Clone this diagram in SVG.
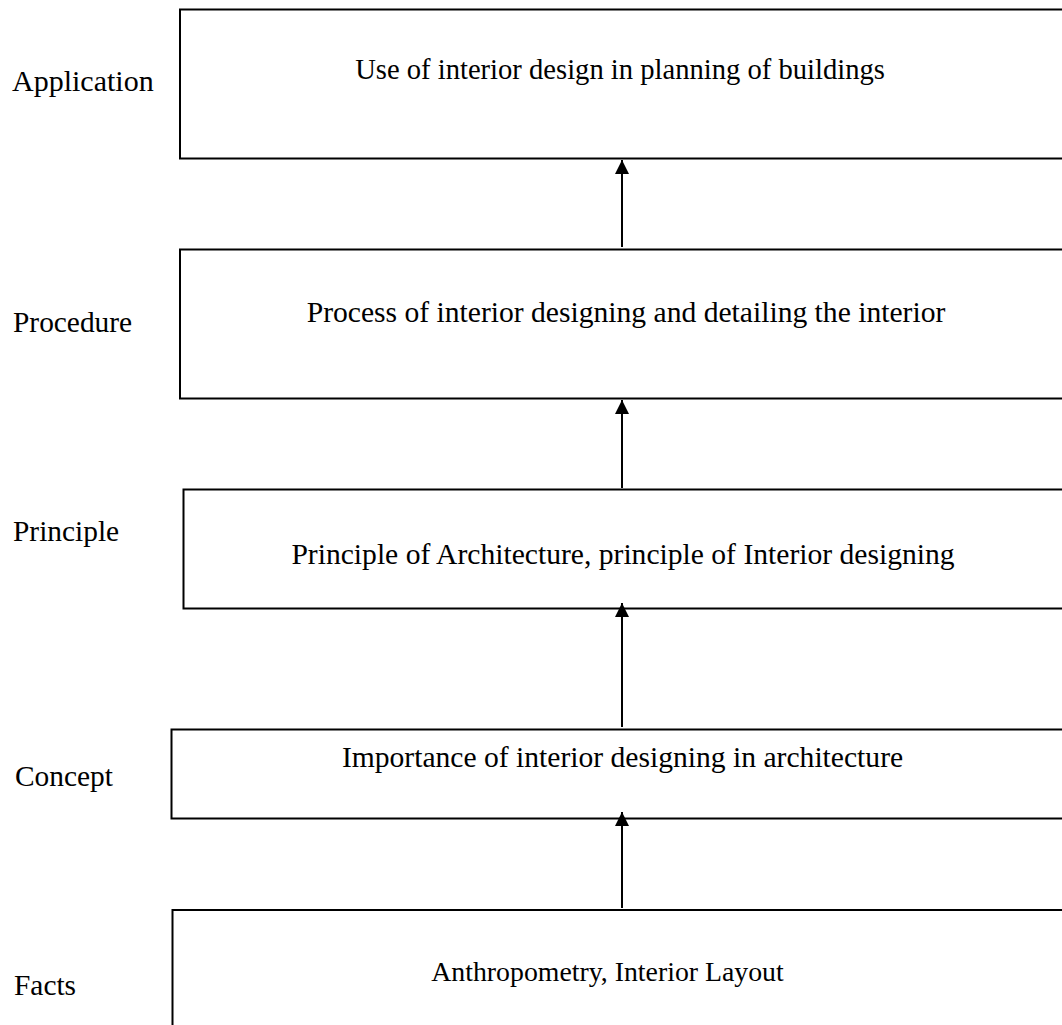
<svg xmlns="http://www.w3.org/2000/svg" width="1062" height="1025" viewBox="0 0 1062 1025">
<style>
.box{fill:#fff;stroke:#000;stroke-width:2}
.t{font-family:"Liberation Serif","Times New Roman",serif;font-size:28.6px;fill:#000}
.c{text-anchor:middle}
.w{font-size:29.6px}
.conn{stroke:#000;stroke-width:2;fill:none}
</style>
<defs>
<marker id="ah" markerUnits="userSpaceOnUse" markerWidth="16" markerHeight="16" refX="14" refY="7" orient="auto">
<path d="M0,0 L14,7 L0,14 Z" fill="#000"/>
</marker>
</defs>
<rect width="1062" height="1025" fill="#fff"/>
<g id="node-application">
<rect class="box" x="180" y="9.5" width="900" height="149"/>
<text class="t c" x="620" y="79">Use of interior design in planning of buildings</text>
</g>
<g id="node-procedure">
<rect class="box" x="180" y="249.5" width="900" height="149"/>
<text class="t c w" x="626" y="322">Process of interior designing and detailing the interior</text>
</g>
<g id="node-principle">
<rect class="box" x="183.5" y="489.5" width="900" height="119"/>
<text class="t c w" x="623" y="564">Principle of Architecture, principle of Interior designing</text>
</g>
<g id="node-concept">
<rect class="box" x="171.5" y="729.5" width="900" height="89"/>
<text class="t c w" x="622.5" y="767">Importance of interior designing in architecture</text>
</g>
<g id="node-facts">
<rect class="box" x="172.5" y="910" width="900" height="140"/>
<text class="t c" x="607.5" y="981" style="font-size:27.8px">Anthropometry, Interior Layout</text>
</g>
<g id="labels">
<text class="t" x="12" y="91" style="font-size:30px">Application</text>
<text class="t" x="13" y="332" style="font-size:29.4px">Procedure</text>
<text class="t" x="13" y="541" style="font-size:29.4px">Principle</text>
<text class="t" x="15" y="786" style="font-size:29.4px">Concept</text>
<text class="t" x="14" y="995" style="font-size:29.4px">Facts</text>
</g>
<g id="connectors">
<line class="conn" x1="622" y1="247" x2="622" y2="160" marker-end="url(#ah)"/>
<line class="conn" x1="622" y1="488" x2="622" y2="400" marker-end="url(#ah)"/>
<line class="conn" x1="622" y1="727" x2="622" y2="603" marker-end="url(#ah)"/>
<line class="conn" x1="622" y1="908" x2="622" y2="812" marker-end="url(#ah)"/>
</g>
</svg>
